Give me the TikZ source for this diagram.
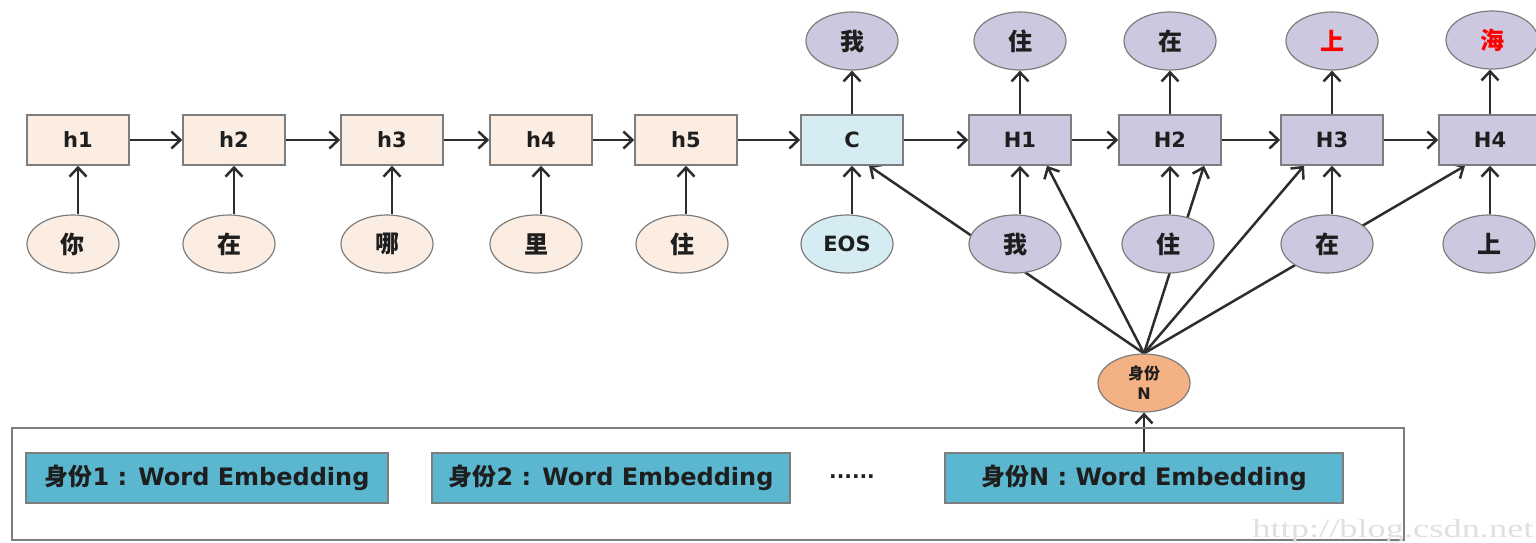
\documentclass[tikz,border=0pt]{standalone}
\usepackage{graphicx}
\usepackage{fontspec}
\setmainfont{DejaVu Sans}
\newfontfamily\cjk{Noto Sans CJK SC}
\newfontfamily\wmfont{Liberation Serif}
\usetikzlibrary{arrows.meta,calc,backgrounds,shapes.geometric}

\definecolor{peach}{RGB}{251,237,226}
\definecolor{iceblue}{RGB}{212,236,242}
\definecolor{lav}{RGB}{205,200,223}
\definecolor{apricot}{RGB}{244,177,131}
\definecolor{teal}{RGB}{91,183,208}
\definecolor{wire}{RGB}{45,45,45}
\definecolor{rim}{RGB}{125,125,125}
\definecolor{txt}{RGB}{30,30,30}

\tikzset{
  cell/.style={draw=rim, line width=0.8pt, minimum width=51pt, minimum height=25pt,
               inner sep=0pt, text=txt, font=\bfseries\fontsize{10.5}{12}\selectfont},
  enc/.style={cell, fill=peach},
  ctx/.style={cell, fill=iceblue},
  dec/.style={cell, fill=lav},
  tok/.style={ellipse, draw=rim, line width=0.6pt, minimum width=46pt, minimum height=29pt,
              inner sep=0pt, text=txt, font=\cjk\bfseries\fontsize{12}{13}\selectfont},
  tokin/.style={tok, fill=peach},
  tokctx/.style={tok, fill=iceblue, font=\bfseries\fontsize{10.5}{12}\selectfont},
  tokdec/.style={tok, fill=lav},
  idnode/.style={tok, fill=apricot, font=\cjk\bfseries\fontsize{8}{10}\selectfont, align=center},
  embbox/.style={draw=rim, fill=teal, line width=0.8pt, minimum height=25pt, inner sep=0pt,
                 text=txt, font=\bfseries\fontsize{12}{14}\selectfont},
  link/.style={draw=wire, line width=1.25pt, -{Straight Barb[length=4.5pt,width=8.5pt]}},
}

\begin{document}
\begin{tikzpicture}[x=0.5pt,y=-0.5pt]
\useasboundingbox (0,0) rectangle (1536,542);

% encoder states
\node[enc] (h1) at (78,140) {h1};
\node[enc] (h2) at (234,140) {h2};
\node[enc] (h3) at (392,140) {h3};
\node[enc] (h4) at (541,140) {h4};
\node[enc] (h5) at (686,140) {h5};
\node[ctx] (C)  at (852,140) {C};
% decoder states
\node[dec] (H1) at (1020,140) {H1};
\node[dec] (H2) at (1170,140) {H2};
\node[dec] (H3) at (1332,140) {H3};
\node[dec] (H4) at (1490,140) {H4};

% encoder inputs
\node[tokin] (x1) at (73,244) {你};
\node[tokin] (x2) at (229,244) {在};
\node[tokin] (x3) at (387,244) {哪};
\node[tokin] (x4) at (536,244) {里};
\node[tokin] (x5) at (682,244) {住};
\node[tokctx] (eos) at (847,244) {EOS};
% decoder inputs
\node[tokdec] (y1) at (1015,244) {我};
\node[tokdec] (y2) at (1168,244) {住};
\node[tokdec] (y3) at (1327,244) {在};
\node[tokdec] (y4) at (1489,244) {上};

% decoder outputs
\node[tokdec] (o0) at (852,41) {我};
\node[tokdec] (o1) at (1020,41) {住};
\node[tokdec] (o2) at (1170,41) {在};
\node[tokdec] (o3) at (1332,41) {\textcolor{red}{上}};
\node[tokdec] (o4) at (1492,40) {\textcolor{red}{海}};

% identity node
\node[idnode] (id) at (1144,383) {身份\\{\fontspec{DejaVu Sans}\bfseries N}};

% embedding table
\node[draw=rim, line width=0.6pt, minimum width=696pt, minimum height=56pt, inner sep=0pt]
  (table) at (708,484) {};
\node[embbox, minimum width=181pt] (e1) at (207,478) {{\cjk 身份}1 : Word Embedding};
\node[embbox, minimum width=179pt] (e2) at (611,478) {{\cjk 身份}2 : Word Embedding};
\node[font=\bfseries\fontsize{10}{10}\selectfont, text=txt] (dots) at (852,477) {......};
\node[embbox, minimum width=199pt] (eN) at (1144,478) {{\cjk 身份}N : Word Embedding};

% faint watermark
\node[anchor=west, inner sep=0pt, text=black!12, font=\wmfont\fontsize{13}{14}\selectfont] (wm)
  at (1252,531) {\scalebox{1.4}[1]{http://blog.csdn.net}};

\begin{scope}[on background layer]
  \fill[white] (0,0) rectangle (1536,542);
  % recurrence along the chain
  \foreach \a/\b in {h1/h2,h2/h3,h3/h4,h4/h5,h5/C,C/H1,H1/H2,H2/H3,H3/H4}
    \draw[link] (\a.east) -- (\b.west);
  % inputs into states
  \foreach \t/\s in {x1/h1,x2/h2,x3/h3,x4/h4,x5/h5,eos/C,y1/H1,y2/H2,y3/H3,y4/H4}
    \draw[link] (\s.south |- \t.north) -- (\s.south);
  % outputs from states
  \foreach \s/\o in {C/o0,H1/o1,H2/o2,H3/o3,H4/o4}
    \draw[link] (\s.north) -- (\s.north |- \o.south);
  % identity fed into every decoder step
  \draw[link] (id.north) -- ($(C.south)+(17,0)$);
  \draw[link] (id.north) -- ($(H1.south)+(27,0)$);
  \draw[link] (id.north) -- ($(H2.south)+(34,0)$);
  \draw[link] (id.north) -- ($(H3.south)+(-28,0)$);
  \draw[link] (id.north) -- ($(H4.south)+(-25,0)$);
  % lookup of the identity embedding
  \draw[link] (eN.north) -- (id.south);
\end{scope}
\end{tikzpicture}
\end{document}
